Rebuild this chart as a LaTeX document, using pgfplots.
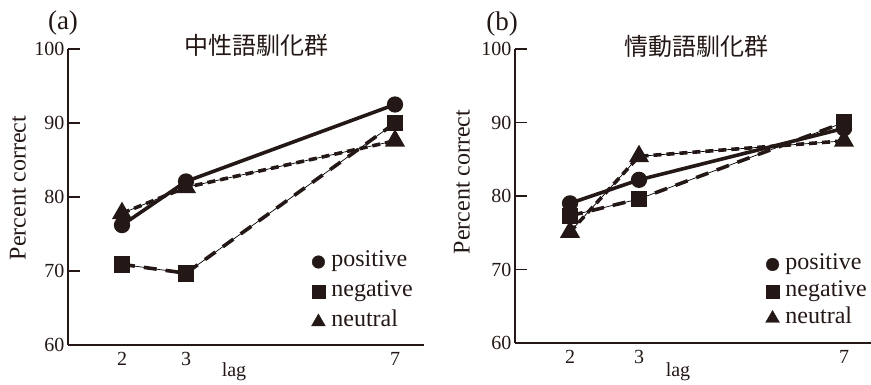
\documentclass[border=0pt]{standalone}
\usepackage{pgfplots}
\pgfplotsset{compat=1.18}
\usepackage{fontspec}
\setmainfont{Liberation Serif}
\newfontfamily\cjk{Noto Sans CJK JP}
\definecolor{ink}{HTML}{231815}
\definecolor{thin}{HTML}{BEBEBE}
% x positions of lag 2, 3, 7 on the (non-linear) lag axis
\pgfplotsset{
  panel/.style={
    scale only axis, width=356pt,
    axis x line*=bottom, axis y line*=left,
    axis line style={ink, line width=1.2pt},
    xmin=0, xmax=356, ymin=60, ymax=100,
    ytick={60,70,80,90,100},
    xticklabels={2,3,7},
    tick align=inside, major tick length=12pt,
    every tick/.style={ink, line width=1.2pt},
    major x tick style={draw=none},
    tick label style={font=\fontsize{20}{20}\selectfont, text=ink},
    /pgf/number format/assume math mode=true,
    xticklabel style={anchor=base, yshift=-21pt},
    clip=false,
    legend style={draw=none, fill=none, font=\fontsize{24}{24}\selectfont, text=ink,
      nodes={inner sep=1pt, text height=15pt, text depth=5pt, anchor=west},
      /tikz/every odd column/.append style={column sep=5pt}},
    legend cell align=left,
    legend image code/.code={\draw[##1] plot coordinates {(6pt,0pt)};},
  },
  pos/.style={ink, line width=3.6pt, mark=*, mark size=6.3pt, mark options={solid, fill=ink}},
  neg/.style={ink, line width=3.6pt, dash pattern=on 13pt off 9pt, mark=square*, mark size=6.5pt, mark options={solid, fill=ink}},
  neu/.style={ink, line width=3.6pt, dash pattern=on 8pt off 5pt, mark=triangle*, mark size=8pt, mark options={solid, fill=ink}},
  under/.style={thin, line width=0.7pt, forget plot},
}
\begin{document}
\begin{tikzpicture}
\useasboundingbox (0pt,0pt) rectangle (871pt,385pt);
% ---------- panel (a)
\begin{axis}[panel, at={(68pt,40pt)}, anchor=south west, height=296pt,
  xtick={54,118,327},
  legend style={at={(axis description cs:0.675,0.325)}, anchor=north west, row sep=8pt}]
\addlegendimage{only marks, mark=*, mark size=6.3pt, ink, fill=ink}
\addlegendentry{positive}
\addlegendimage{only marks, mark=square*, mark size=6.3pt, ink, fill=ink}
\addlegendentry{negative}
\addlegendimage{only marks, mark=triangle*, mark size=8pt, ink, fill=ink}
\addlegendentry{neutral}
\addplot[under] coordinates {(54,77.8) (118,81.3) (327,87.6)};
\addplot[under] coordinates {(54,70.9) (118,69.7) (327,90.0)};
\addplot[neu, forget plot] coordinates {(54,77.8) (118,81.3) (327,87.6)};
\addplot[neg, forget plot] coordinates {(54,70.9) (118,69.7) (327,90.0)};
\addplot[pos, forget plot] coordinates {(54,76.2) (118,82.1) (327,92.5)};
\end{axis}
% ---------- panel (b)
\begin{axis}[panel, at={(515pt,42pt)}, anchor=south west, height=294pt,
  xtick={55,124,329},
  legend style={at={(axis description cs:0.695,0.312)}, anchor=north west, row sep=5pt}]
\addlegendimage{only marks, mark=*, mark size=6.3pt, ink, fill=ink}
\addlegendentry{positive}
\addlegendimage{only marks, mark=square*, mark size=6.3pt, ink, fill=ink}
\addlegendentry{negative}
\addlegendimage{only marks, mark=triangle*, mark size=8pt, ink, fill=ink}
\addlegendentry{neutral}
\addplot[under] coordinates {(55,75.1) (124,85.4) (329,87.5)};
\addplot[under] coordinates {(55,77.3) (124,79.6) (329,90.0)};
\addplot[neu, forget plot] coordinates {(55,75.1) (124,85.4) (329,87.5)};
\addplot[pos, forget plot] coordinates {(55,79.0) (124,82.2) (329,89.2)};
\addplot[neg, forget plot] coordinates {(55,77.3) (124,79.6) (329,90.0)};
\end{axis}
% ---------- texts
\node[text=ink, font=\fontsize{27}{27}\selectfont] at (63pt,362pt) {(a)};
\node[text=ink, font=\cjk\fontsize{24}{24}\selectfont] at (256pt,340pt) {中性語馴化群};
\node[text=ink, font=\fontsize{24}{24}\selectfont, rotate=90] at (18pt,197pt) {Percent correct};
\node[text=ink, font=\fontsize{20}{20}\selectfont, anchor=base] at (234pt,8pt) {lag};
\node[text=ink, font=\fontsize{27}{27}\selectfont] at (502pt,361pt) {(b)};
\node[text=ink, font=\cjk\fontsize{24}{24}\selectfont] at (696pt,339pt) {情動語馴化群};
\node[text=ink, font=\fontsize{24}{24}\selectfont, rotate=90] at (462pt,203pt) {Percent correct};
\node[text=ink, font=\fontsize{20}{20}\selectfont, anchor=base] at (678pt,8pt) {lag};
\end{tikzpicture}
\end{document}
